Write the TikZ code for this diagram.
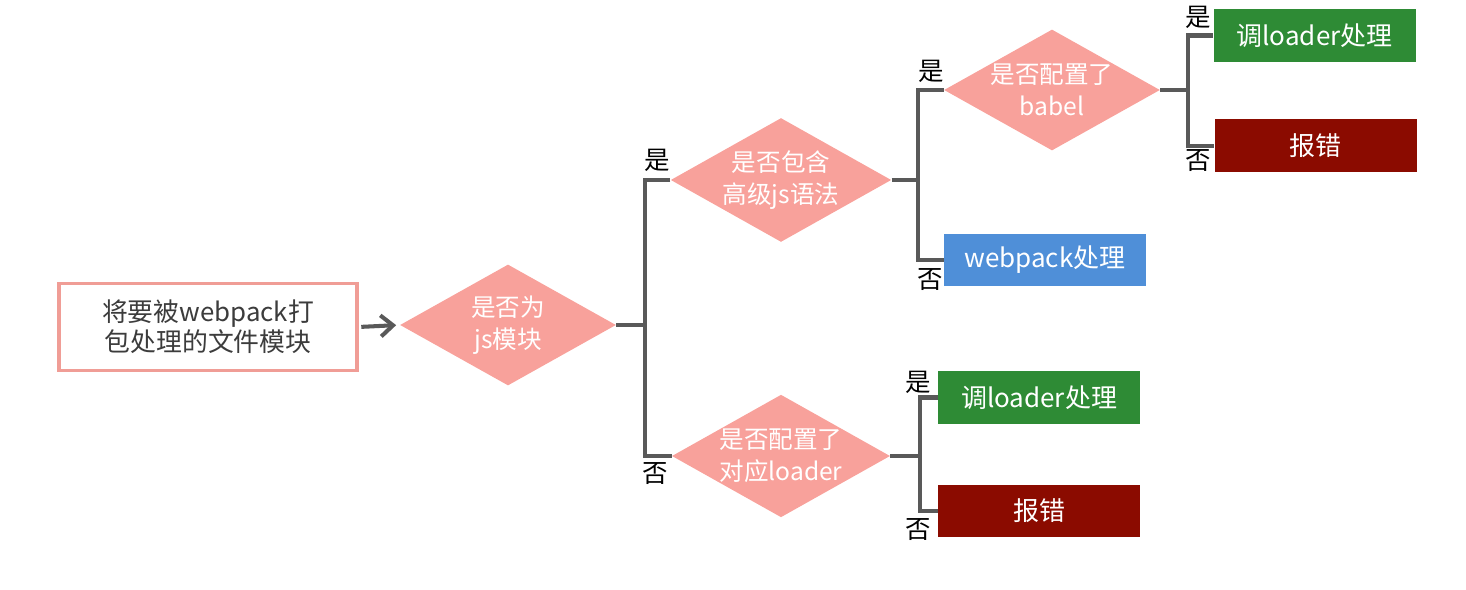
\documentclass[tikz,border=0pt]{standalone}
\usepackage{fontspec}
\setmainfont{Noto Sans CJK SC}
\usetikzlibrary{shapes.geometric,arrows.meta}
\definecolor{diapink}{HTML}{F8A19B}
\definecolor{boxpink}{HTML}{F09D96}
\definecolor{txtgray}{HTML}{3C3C3C}
\definecolor{linegray}{HTML}{595959}
\definecolor{okgreen}{HTML}{2E8B35}
\definecolor{errred}{HTML}{8B0B00}
\definecolor{wpblue}{HTML}{4F8FD8}
\begin{document}
\begin{tikzpicture}[x=0.02cm,y=-0.02cm,
  startbox/.style={rectangle, draw=boxpink, line width=2.2pt, fill=white, text=txtgray,
    minimum width=5.95cm, minimum height=1.74cm, inner sep=0pt, align=center,
    font=\fontsize{14.7}{17}\selectfont},
  dia/.style={diamond, fill=diapink, text=white, inner sep=0pt, aspect=1.78,
    minimum width=4.32cm, minimum height=2.42cm, align=center,
    font=\fontsize{14}{18}\selectfont},
  resbox/.style={rectangle, inner sep=0pt, minimum width=4.04cm, minimum height=1.06cm,
    text=white, font=\fontsize{14.8}{17}\selectfont},
  conn/.style={draw=linegray, line width=2.3pt, line join=miter},
  lbl/.style={inner sep=0pt, text=black, font=\fontsize{14.5}{16}\selectfont}
]
\useasboundingbox (0,0) rectangle (1466,590);

% nodes
\node[startbox] (s) at (208,327) {将要被webpack打\\包处理的文件模块};
\node[dia] (d1) at (508,325) {是否为\\js模块};
\node[dia] (d2) at (781,180) {是否包含\\高级js语法};
\node[dia] (d3) at (781,456) {是否配置了\\对应loader};
\node[dia] (d4) at (1052,90) {是否配置了\\babel};
\node[resbox, fill=wpblue] (b1) at (1045,260) {webpack处理};
\node[resbox, fill=okgreen] (g1) at (1314.5,35.5) {调loader处理};
\node[resbox, fill=errred] (r1) at (1315.5,146) {报错};
\node[resbox, fill=okgreen] (g2) at (1039,397.5) {调loader处理};
\node[resbox, fill=errred] (r2) at (1039,511) {报错};

% labels
\node[lbl] (y1) at (657,160) {是};
\node[lbl] (n1) at (655,474) {否};
\node[lbl] (y2) at (931,71) {是};
\node[lbl] (n2) at (930,280) {否};
\node[lbl] (y3) at (1198,17) {是};
\node[lbl] (n3) at (1198,161) {否};
\node[lbl] (y4) at (918,382) {是};
\node[lbl] (n4) at (918,530) {否};

% junctions
\coordinate (j1) at (645,325);
\coordinate (j2) at (918,180);
\coordinate (j3) at (1188,90);
\coordinate (j4) at (920,456);

% connectors
\draw[conn, -{Straight Barb[length=7pt,width=12pt]}, shorten <=1.5pt, shorten >=2pt] (s.east) -- (d1.west);
\draw[conn] (d1.east) -- (j1);
\draw[conn] (d2.west) -| (j1) |- (d3.west);
\draw[conn] (d2.east) -- (j2);
\draw[conn] (d4.west) -| (j2) |- (b1.west);
\draw[conn] (d4.east) -- (j3);
\draw[conn] (g1.west) -| (j3) |- (r1.west);
\draw[conn] (d3.east) -- (j4);
\draw[conn] (g2.west) -| (j4) |- (r2.west);
\end{tikzpicture}
\end{document}
